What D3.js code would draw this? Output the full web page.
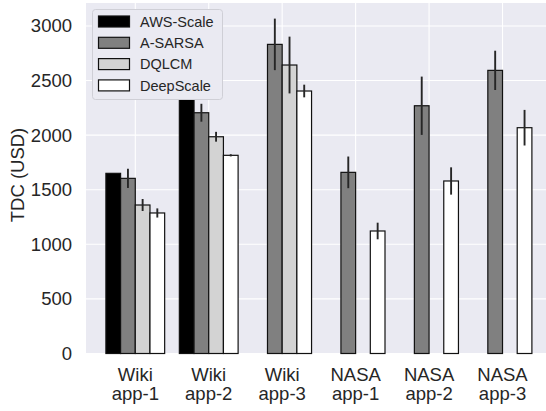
<!DOCTYPE html>
<html>
<head>
<meta charset="utf-8">
<script src="https://cdn.jsdelivr.net/npm/d3@7"></script>
<style>
  html, body { margin: 0; padding: 0; background: #ffffff; }
  svg { display: block; }
  text { font-family: "Liberation Sans", Arial, sans-serif; fill: #262626; }
</style>
</head>
<body>
<svg id="chart" width="546" height="411"></svg>
<script>
// Workloads (two-line tick labels)
const categories = [
  ["Wiki", "app-1"], ["Wiki", "app-2"], ["Wiki", "app-3"],
  ["NASA", "app-1"], ["NASA", "app-2"], ["NASA", "app-3"]
];
const seriesNames = ["AWS-Scale", "A-SARSA", "DQLCM", "DeepScale"];
const seriesColors = ["#000000", "#808080", "#d3d3d3", "#ffffff"];

// Total deployment cost (USD) per workload; null = not evaluated
const awsScale  = [1650, 2400, null, null, null, null];
const aSarsa    = [1604, 2205, 2831, 1659, 2269, 2593];
const dqlcm     = [1360, 1985, 2642, null, null, null];
const deepScale = [1287, 1815, 2404, 1122, 1580, 2068];

// Error half-widths
const awsScaleErr  = [0, 0, null, null, null, null];
const aSarsaErr    = [88, 82, 236, 145, 267, 180];
const dqlcmErr     = [55, 45, 260, null, null, null];
const deepScaleErr = [42, 10, 58, 76, 125, 163];

const yTicks = [0, 500, 1000, 1500, 2000, 2500, 3000];

const values = [awsScale, aSarsa, dqlcm, deepScale];
const errors = [awsScaleErr, aSarsaErr, dqlcmErr, deepScaleErr];

const plot = { left: 86, top: 3, right: 551.8, bottom: 353.5 };
const FONT = 18.5;

const svg = d3.select("#chart");

const x0 = d3.scaleBand()
  .domain(d3.range(categories.length))
  .range([plot.left, plot.right])
  .paddingInner(0.2)
  .paddingOuter(0.271);

const x1 = d3.scaleBand()
  .domain(d3.range(seriesNames.length))
  .range([0, x0.bandwidth()])
  .padding(0);

const y = d3.scaleLinear()
  .domain([0, 3210])
  .range([plot.bottom, plot.top]);

// Axes background
svg.append("rect")
  .attr("x", plot.left).attr("y", plot.top)
  .attr("width", plot.right - plot.left)
  .attr("height", plot.bottom - plot.top)
  .attr("fill", "#eaeaf2");

// Grid lines
const grid = svg.append("g");
grid.selectAll("line.h").data(yTicks).join("line")
  .attr("x1", plot.left).attr("x2", plot.right)
  .attr("y1", d => y(d)).attr("y2", d => y(d))
  .attr("stroke", "#ffffff").attr("stroke-width", 1.1);
grid.selectAll("line.v").data(d3.range(categories.length)).join("line")
  .attr("x1", d => x0(d) + x0.bandwidth() / 2)
  .attr("x2", d => x0(d) + x0.bandwidth() / 2)
  .attr("y1", plot.top).attr("y2", plot.bottom)
  .attr("stroke", "#ffffff").attr("stroke-width", 1.1);

// Bars
const barData = [];
values.forEach((vals, s) => {
  vals.forEach((v, c) => {
    if (v !== null) barData.push({ s, c, v, e: errors[s][c] });
  });
});

svg.append("g").selectAll("rect").data(barData).join("rect")
  .attr("x", d => x0(d.c) + x1(d.s))
  .attr("y", d => y(d.v))
  .attr("width", x1.bandwidth())
  .attr("height", d => y(0) - y(d.v))
  .attr("fill", d => seriesColors[d.s])
  .attr("stroke", "#111111")
  .attr("stroke-width", 1.2);

// Error bars
svg.append("g").selectAll("line").data(barData.filter(d => d.e > 0)).join("line")
  .attr("x1", d => x0(d.c) + x1(d.s) + x1.bandwidth() / 2)
  .attr("x2", d => x0(d.c) + x1(d.s) + x1.bandwidth() / 2)
  .attr("y1", d => y(d.v - d.e))
  .attr("y2", d => y(d.v + d.e))
  .attr("stroke", "#262626")
  .attr("stroke-width", 1.9);

// Y axis
const yAxis = d3.axisLeft(y).tickValues(yTicks).tickSize(0).tickPadding(14)
  .tickFormat(d3.format("d"));
const gy = svg.append("g").attr("transform", `translate(${plot.left},0)`).call(yAxis);
gy.select(".domain").remove();
gy.selectAll("text")
  .attr("font-size", FONT)
  .attr("fill", "#262626")
  .style("font-family", '"Liberation Sans", Arial, sans-serif');

// X axis (two-line labels)
const xAxis = d3.axisBottom(x0).tickSize(0).tickFormat("");
const gx = svg.append("g").attr("transform", `translate(0,${plot.bottom})`).call(xAxis);
gx.select(".domain").remove();
gx.selectAll(".tick").each(function(d) {
  const t = d3.select(this).append("text")
    .attr("text-anchor", "middle")
    .attr("font-size", FONT)
    .attr("fill", "#262626");
  t.append("tspan").attr("x", 0).attr("y", 27).text(categories[d][0]);
  t.append("tspan").attr("x", 0).attr("y", 46).text(categories[d][1]);
});

// Y axis title
svg.append("text")
  .attr("transform", "translate(23.5,175) rotate(-90)")
  .attr("text-anchor", "middle")
  .attr("font-size", FONT)
  .text("TDC (USD)");

// Legend
const legend = svg.append("g");
legend.append("rect")
  .attr("x", 92.5).attr("y", 9.5)
  .attr("width", 130).attr("height", 90)
  .attr("rx", 3)
  .attr("fill", "#eaeaf2")
  .attr("stroke", "#cfcfd6")
  .attr("stroke-width", 1);
const items = legend.selectAll("g.item").data(seriesNames).join("g")
  .attr("transform", (d, i) => `translate(0,${21.5 + i * 21.3})`);
items.append("rect")
  .attr("x", 98.5).attr("y", -5.5)
  .attr("width", 31).attr("height", 11)
  .attr("fill", (d, i) => seriesColors[i])
  .attr("stroke", "#111111")
  .attr("stroke-width", 1.2);
items.append("text")
  .attr("x", 140).attr("y", 0)
  .attr("dy", "0.36em")
  .attr("font-size", 14.5)
  .text(d => d);
</script>
</body>
</html>
